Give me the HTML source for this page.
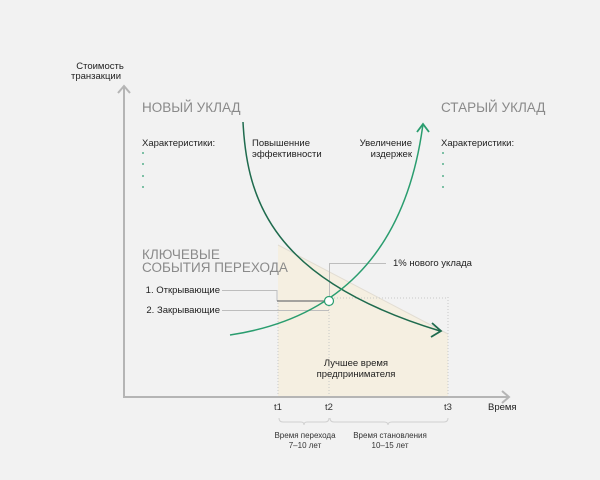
<!DOCTYPE html>
<html><head><meta charset="utf-8"><style>
body{margin:0;background:#f2f2f2;}
svg{display:block;font-family:"Liberation Sans",sans-serif;}
</style></head><body>
<svg width="600" height="480" viewBox="0 0 600 480">
<rect width="600" height="480" fill="#f2f2f2"/>
<polygon points="278,245 448,334 448,397 278,397" fill="#f5efe1"/>
<line x1="278" y1="245" x2="448" y2="334" stroke="#e2ddd3" stroke-width="1"/>
<g stroke="#c8c8c8" stroke-dasharray="1,2" stroke-width="1">
<line x1="278" y1="300" x2="278" y2="397"/>
<line x1="329" y1="300" x2="329" y2="397"/>
<line x1="448" y1="297" x2="448" y2="397"/>
<line x1="334" y1="298" x2="448" y2="298"/>
</g>
<g stroke="#b5b5b5" stroke-width="2" fill="none">
<line x1="124" y1="87" x2="124" y2="397"/>
<line x1="123" y1="397" x2="509" y2="397"/>
<polyline points="118,93 124,86 130,93"/>
<polyline points="502,391 509,397 502,403"/>
</g>
<g stroke="#bdbdbd" stroke-width="1" fill="none">
<line x1="222" y1="290.5" x2="277" y2="290.5"/>
<line x1="277" y1="290" x2="277" y2="301"/>
<line x1="222" y1="310.5" x2="329" y2="310.5"/>
<line x1="329.5" y1="263" x2="329.5" y2="296"/>
<line x1="329" y1="263.5" x2="386" y2="263.5"/>
</g>
<line x1="277" y1="301" x2="324" y2="301" stroke="#888" stroke-width="1.5"/>
<path d="M243,122 C247,200 272,280 440,331" stroke="#1f6b4e" stroke-width="1.5" fill="none"/>
<polyline points="432,323 441,331 431,337" stroke="#1f6b4e" stroke-width="1.8" fill="none"/>
<path d="M230,335 C330,320 405,260 423,124" stroke="#2a9d6f" stroke-width="1.5" fill="none"/>
<polyline points="417,132 423,124 429,132" stroke="#2a9d6f" stroke-width="1.8" fill="none"/>
<circle cx="329" cy="301" r="4.5" fill="#fff" stroke="#2a9d6f" stroke-width="1.2"/>
<g stroke="#d0d0d0" stroke-width="1" fill="none">
<path d="M279,418 q0,4 4,4 h18 q3,0 3,3 q0,-3 3,-3 h18 q4,0 4,-4"/>
<path d="M330,418 q0,4 4,4 h50 q4,0 4,3 q0,-3 4,-3 h52 q4,0 4,-4"/>
</g>
<g fill="#222" font-size="9.5">
<text x="100" y="69" text-anchor="middle">Стоимость</text>
<text x="96" y="79" text-anchor="middle">транзакции</text>
<text x="142" y="146">Характеристики:</text>
<text x="252" y="146">Повышенние</text>
<text x="252" y="157">эффективности</text>
<text x="412" y="146" text-anchor="end">Увеличение</text>
<text x="412" y="157" text-anchor="end">издержек</text>
<text x="441" y="146">Характеристики:</text>
<text x="220" y="293" text-anchor="end">1. Открывающие</text>
<text x="220" y="313" text-anchor="end">2. Закрывающие</text>
<text x="393" y="266">1% нового уклада</text>
<text x="356" y="366" text-anchor="middle">Лучшее время</text>
<text x="356" y="377" text-anchor="middle">предпринимателя</text>
<text x="488" y="410">Время</text>
</g>
<g fill="#333" font-size="9.5">
<text x="278" y="410" text-anchor="middle">t1</text>
<text x="329" y="410" text-anchor="middle">t2</text>
<text x="448" y="410" text-anchor="middle">t3</text>
</g>
<g fill="#333" font-size="8" text-anchor="middle">
<text x="305" y="438">Время перехода</text>
<text x="305" y="448">7–10 лет</text>
<text x="390" y="438">Время становления</text>
<text x="390" y="448">10–15 лет</text>
</g>
<g fill="#8a8a8a" font-size="13.5">
<text x="142" y="112">НОВЫЙ УКЛАД</text>
<text x="441" y="112">СТАРЫЙ УКЛАД</text>
<text x="142" y="259">КЛЮЧЕВЫЕ</text>
<text x="142" y="272">СОБЫТИЯ ПЕРЕХОДА</text>
</g>
<g fill="#2a9d6f">
<circle cx="143" cy="153" r="0.9"/><circle cx="143" cy="164" r="0.9"/><circle cx="143" cy="176" r="0.9"/><circle cx="143" cy="187" r="0.9"/>
<circle cx="443" cy="153" r="0.9"/><circle cx="443" cy="164" r="0.9"/><circle cx="443" cy="176" r="0.9"/><circle cx="443" cy="187" r="0.9"/>
</g>
</svg>
</body></html>
